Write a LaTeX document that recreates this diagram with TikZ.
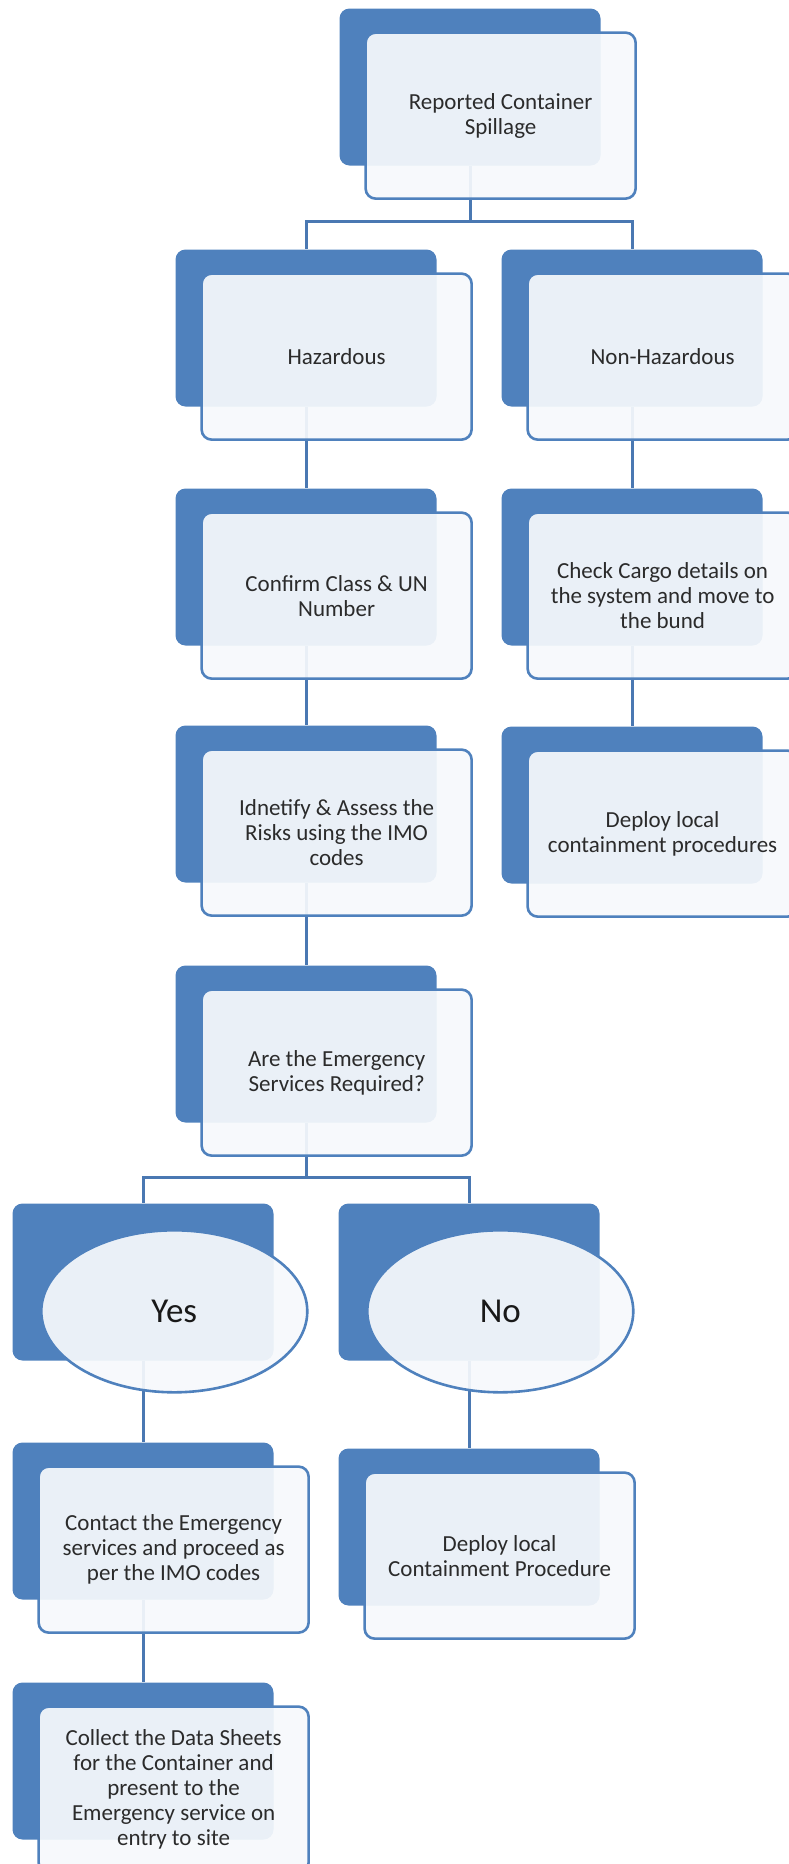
\documentclass[tikz,border=0pt]{standalone}
\usepackage{fontspec}
\setmainfont{Carlito}
\usetikzlibrary{positioning,shapes.geometric}
\definecolor{accent}{HTML}{4F81BD}
\definecolor{linkblue}{HTML}{4A78B2}
\definecolor{paper}{HTML}{F6F9FC}
\definecolor{inktext}{HTML}{2B2B2B}
\tikzset{backbox/.style={fill=accent,rounded corners=10pt,minimum width=261pt,minimum height=157pt,inner sep=0pt},frontbox/.style={draw=accent,line width=2.6pt,fill=paper,fill opacity=.93,text opacity=1,rounded corners=10pt,minimum width=270pt,minimum height=166pt,inner sep=0pt,align=center,text=inktext,font=\fontsize{23}{25}\selectfont,below right=23pt and 25pt of #1.north west},ovalbox/.style={ellipse,draw=accent,line width=2.6pt,fill=paper,fill opacity=.93,text opacity=1,minimum width=266pt,minimum height=162pt,inner sep=0pt,text=black!90,font=\fontsize{35}{38}\selectfont,below right=108pt and 162pt of #1.north west,anchor=center},link/.style={linkblue,line width=3pt}}

\begin{document}
\begin{tikzpicture}[x=1pt,y=-1pt]
\useasboundingbox (0,0) rectangle (789,1864);
% back plates
\node[backbox] (topB) at (470,87) {};
\node[backbox] (hazB) at (306,328) {};\node[backbox] (nonB) at (632,328) {};
\node[backbox] (confB) at (306,567) {};\node[backbox] (checkB) at (632,567) {};
\node[backbox] (idenB) at (306,804) {};\node[backbox] (localB) at (632,805) {};
\node[backbox] (emergB) at (306,1044) {};
\node[backbox] (yesB) at (143,1282) {};\node[backbox] (noB) at (469,1282) {};
\node[backbox] (contactB) at (143,1521) {};\node[backbox] (procB) at (469,1527) {};
\node[backbox] (collectB) at (143,1761) {};
% connectors
\coordinate (fork1) at (470,221);
\coordinate (fork2) at (306,1177);
\draw[link] (topB.south) -- (fork1) -| (hazB.north);
\draw[link] (fork1) -| (nonB.north);
\draw[link] (hazB) -- (confB);\draw[link] (confB) -- (idenB);\draw[link] (idenB) -- (emergB);
\draw[link] (nonB) -- (checkB);\draw[link] (checkB) -- (localB);
\draw[link] (emergB.south) -- (fork2) -| (yesB.north);
\draw[link] (fork2) -| (noB.north);
\draw[link] (yesB) -- (contactB);\draw[link] (contactB) -- (collectB);
\draw[link] (noB) -- (procB);
% front cards
\node[frontbox=topB] (topF) {Reported Container\\Spillage};
\node[frontbox=hazB] (hazF) {Hazardous};
\node[frontbox=nonB] (nonF) {Non-Hazardous};
\node[frontbox=confB] (confF) {Confirm Class \& UN\\Number};
\node[frontbox=checkB] (checkF) {Check Cargo details on\\the system and move to\\the bund};
\node[frontbox=idenB] (idenF) {Idnetify \& Assess the\\Risks using the IMO\\codes};
\node[frontbox=localB] (localF) {Deploy local\\containment procedures};
\node[frontbox=emergB] (emergF) {Are the Emergency\\Services Required?};
\node[ovalbox=yesB] (yesF) {Yes};
\node[ovalbox=noB] (noF) {No};
\node[frontbox=contactB] (contactF) {Contact the Emergency\\services and proceed as\\per the IMO codes};
\node[frontbox=procB] (procF) {Deploy local\\Containment Procedure};
\node[frontbox=collectB] (collectF) {Collect the Data Sheets\\for the Container and\\present to the\\Emergency service on\\entry to site};
\end{tikzpicture}
\end{document}
